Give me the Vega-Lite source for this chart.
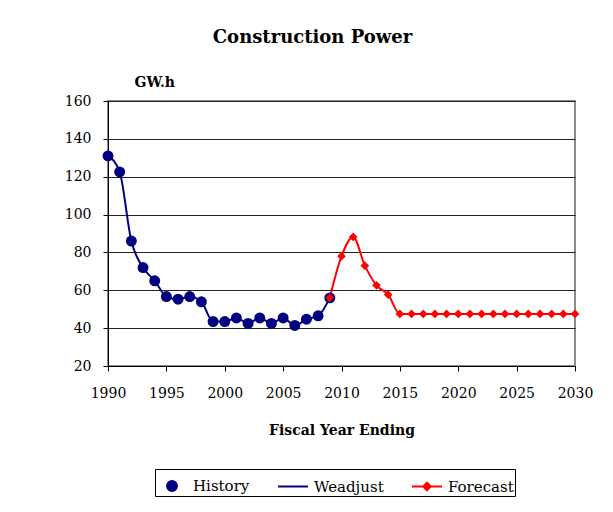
{
  "$schema": "https://vega.github.io/schema/vega-lite/v6.json",
  "autosize": "none",
  "width": 467,
  "height": 265,
  "padding": {"left": 108, "top": 101, "right": 38, "bottom": 146},
  "background": "white",
  "title": {
    "text": "Construction Power",
    "anchor": "middle",
    "dx": -29,
    "fontSize": 18,
    "font": "DejaVu Serif",
    "fontWeight": "bold",
    "color": "black",
    "offset": 28
  },
  "config": {
    "font": "DejaVu Serif",
    "view": {"stroke": "#8c8c8c", "strokeWidth": 2},
    "axis": {
      "labelFont": "DejaVu Serif",
      "titleFont": "DejaVu Serif",
      "labelColor": "black",
      "titleColor": "black",
      "labelFontSize": 14,
      "titleFontSize": 14,
      "domainColor": "black",
      "tickColor": "black",
      "tickSize": 5
    },
    "legend": {
      "labelFont": "DejaVu Serif",
      "labelFontSize": 15,
      "labelColor": "black"
    }
  },
  "data": {
    "values": [
      {"year": 1990, "value": 131, "series": "History"},
      {"year": 1991, "value": 122.5, "series": "History"},
      {"year": 1992, "value": 86, "series": "History"},
      {"year": 1993, "value": 72, "series": "History"},
      {"year": 1994, "value": 65, "series": "History"},
      {"year": 1995, "value": 56.7, "series": "History"},
      {"year": 1996, "value": 55.3, "series": "History"},
      {"year": 1997, "value": 56.7, "series": "History"},
      {"year": 1998, "value": 53.9, "series": "History"},
      {"year": 1999, "value": 43.5, "series": "History"},
      {"year": 2000, "value": 43.5, "series": "History"},
      {"year": 2001, "value": 45.4, "series": "History"},
      {"year": 2002, "value": 42.5, "series": "History"},
      {"year": 2003, "value": 45.4, "series": "History"},
      {"year": 2004, "value": 42.5, "series": "History"},
      {"year": 2005, "value": 45.4, "series": "History"},
      {"year": 2006, "value": 41.4, "series": "History"},
      {"year": 2007, "value": 44.7, "series": "History"},
      {"year": 2008, "value": 46.5, "series": "History"},
      {"year": 2009, "value": 56, "series": "History"},
      {"year": 2009, "value": 56, "series": "Forecast"},
      {"year": 2010, "value": 78, "series": "Forecast"},
      {"year": 2011, "value": 88.2, "series": "Forecast"},
      {"year": 2012, "value": 73, "series": "Forecast"},
      {"year": 2013, "value": 62.6, "series": "Forecast"},
      {"year": 2014, "value": 57.7, "series": "Forecast"},
      {"year": 2015, "value": 47.5, "series": "Forecast"},
      {"year": 2016, "value": 47.5, "series": "Forecast"},
      {"year": 2017, "value": 47.5, "series": "Forecast"},
      {"year": 2018, "value": 47.5, "series": "Forecast"},
      {"year": 2019, "value": 47.5, "series": "Forecast"},
      {"year": 2020, "value": 47.5, "series": "Forecast"},
      {"year": 2021, "value": 47.5, "series": "Forecast"},
      {"year": 2022, "value": 47.5, "series": "Forecast"},
      {"year": 2023, "value": 47.5, "series": "Forecast"},
      {"year": 2024, "value": 47.5, "series": "Forecast"},
      {"year": 2025, "value": 47.5, "series": "Forecast"},
      {"year": 2026, "value": 47.5, "series": "Forecast"},
      {"year": 2027, "value": 47.5, "series": "Forecast"},
      {"year": 2028, "value": 47.5, "series": "Forecast"},
      {"year": 2029, "value": 47.5, "series": "Forecast"},
      {"year": 2030, "value": 47.5, "series": "Forecast"}
    ]
  },
  "encoding": {
    "x": {
      "field": "year",
      "type": "quantitative",
      "scale": {"domain": [1990, 2030], "nice": false, "zero": false},
      "axis": {
        "values": [1990, 1995, 2000, 2005, 2010, 2015, 2020, 2025, 2030],
        "format": "d",
        "grid": false,
        "title": "Fiscal Year Ending",
        "titleFontWeight": "bold",
        "titlePadding": 23,
        "labelPadding": 15,
        "labelFlush": false
      }
    },
    "y": {
      "field": "value",
      "type": "quantitative",
      "scale": {"domain": [20, 160], "nice": false, "zero": false},
      "axis": {
        "values": [20, 40, 60, 80, 100, 120, 140, 160],
        "grid": true,
        "gridColor": "#222222",
        "gridWidth": 1,
        "labelPadding": 12,
        "title": "GW.h",
        "titleAngle": 0,
        "titleX": 26,
        "titleY": -19,
        "titleAlign": "left",
        "titleBaseline": "middle",
        "titleFontWeight": "bold",
        "titleFontSize": 14
      }
    }
  },
  "layer": [
    {
      "transform": [{"filter": "datum.series === 'History'"}],
      "mark": {"type": "line", "color": "#000080", "strokeWidth": 2, "interpolate": "monotone"}
    },
    {
      "transform": [{"filter": "datum.series === 'Forecast'"}],
      "mark": {"type": "line", "color": "#FF0000", "strokeWidth": 2, "interpolate": "monotone"}
    },
    {
      "mark": {"type": "point", "filled": true, "opacity": 1, "strokeWidth": 0},
      "encoding": {
        "color": {
          "condition": {"test": "datum.series === 'History'", "value": "#000080"},
          "value": "#FF0000"
        },
        "shape": {
          "condition": {"test": "datum.series === 'History'", "value": "circle"},
          "value": "diamond"
        },
        "size": {
          "condition": {"test": "datum.series === 'History'", "value": 120},
          "value": 75
        }
      }
    },
    {
      "transform": [{"filter": "false"}],
      "mark": {"type": "point", "filled": true, "opacity": 1, "strokeWidth": 2},
      "encoding": {
        "fill": {
          "field": "series",
          "type": "nominal",
          "scale": {"domain": ["History", "Weadjust", "Forecast"], "range": ["#000080", "#000080", "#FF0000"]},
          "legend": {
            "title": null,
            "orient": "none",
            "legendX": 47,
            "legendY": 368,
            "direction": "horizontal",
            "columns": 3,
            "strokeColor": "black",
            "fillColor": "white",
            "padding": 1,
            "symbolSize": 900,
            "symbolStrokeWidth": 2,
            "symbolOpacity": 1,
            "labelOffset": 5,
            "columnPadding": 24
          }
        },
        "stroke": {
          "field": "series",
          "type": "nominal",
          "scale": {"domain": ["History", "Weadjust", "Forecast"], "range": ["#000080", "#000080", "#FF0000"]}
        },
        "shape": {
          "field": "series",
          "type": "nominal",
          "scale": {
            "domain": ["History", "Weadjust", "Forecast"],
            "range": [
              "M-0.33,0A0.33,0.33 0 1,1 0.33,0A0.33,0.33 0 1,1 -0.33,0Z",
              "M-1,0L1,0",
              "M-1,0L1,0M0,-0.25L0.25,0L0,0.25L-0.25,0Z"
            ]
          }
        }
      }
    }
  ]
}
